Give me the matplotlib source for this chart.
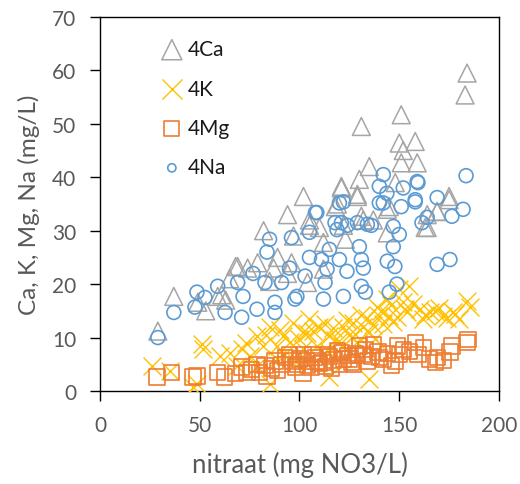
import numpy as np
import matplotlib.pyplot as plt

# 4Ca (grey triangles)
ca_x = [29, 37, 49, 53, 59, 61, 63, 65, 68, 69, 74, 79, 82, 85, 87, 89, 94, 94, 96, 97,
        102, 104, 105, 105, 110, 112, 112, 118, 119, 121, 121, 122, 123, 129, 129, 130,
        131, 131, 132, 135, 137, 144, 144, 145, 148, 150, 151, 151, 152, 158, 159, 163,
        164, 164, 169, 169, 175, 175, 183, 184]
ca_y = [11.2, 17.7, 16.6, 15.0, 17.7, 18.0, 17.0, 21.0, 23.3, 23.3, 23.0, 24.0, 30.0, 20.5,
        23.0, 25.0, 33.0, 22.0, 24.0, 29.0, 36.4, 20.3, 32.0, 31.0, 30.6, 27.8, 22.8, 34.5,
        35.0, 38.3, 38.0, 31.0, 28.4, 36.8, 36.4, 39.6, 49.5, 32.7, 32.0, 42.0, 32.0, 34.0,
        29.6, 34.5, 39.0, 46.4, 51.7, 42.7, 45.0, 46.7, 42.7, 30.6, 33.0, 30.6, 33.6, 33.6,
        35.8, 36.4, 55.4, 59.5]

# 4K (yellow crosses)
k_x = [26, 35, 46.6, 48.6, 51, 51.6, 60, 68.7, 71, 75, 78.6, 78.7, 81.7, 85, 85, 88.7, 88.7,
       91.7, 95, 96.7, 101.8, 102, 105, 108.7, 110, 115, 115, 115, 122, 122, 127, 129, 132,
       135, 135, 139, 140, 144, 145, 150, 152, 154, 155, 160.4, 162, 165.4, 172, 177, 180,
       184, 185.5, 98, 118, 125, 142, 170, 112, 92, 138, 147,
       83, 90, 100, 104, 107, 113, 117, 120, 124, 128, 131, 134, 137, 141, 146, 149, 153,
       157, 163, 168, 174, 178, 65, 73]
k_y = [4.7, 3.7, 0.7, 1.3, 8.8, 7.8, 6.5, 4.7, 7.8, 6.5, 10.2, 4.7, 8.4, 12.0, 1.3, 8.4, 6.0,
       10.2, 9.1, 12.8, 11.0, 7.8, 13.4, 8.4, 12.0, 10.2, 7.3, 2.6, 12.0, 8.4, 12.8, 9.1,
       12.0, 11.0, 2.2, 15.8, 14.0, 17.2, 14.0, 19.0, 16.6, 14.7, 19.6, 15.3, 13.4, 14.7,
       14.0, 14.7, 13.4, 16.8, 15.8, 5.5, 9.5, 10.5, 12.5, 15.5, 7.0, 6.8, 9.8, 13.0,
       10.5, 11.5, 9.8, 10.8, 11.2, 12.6, 11.8, 9.4, 13.2, 10.6, 14.2, 13.6, 12.4, 15.0,
       16.0, 13.8, 15.4, 16.2, 14.2, 15.0, 13.6, 14.4, 7.2, 9.0]

# 4Mg (orange squares)
mg_x = [28.6, 36, 46.6, 48.6, 59, 62.6, 71, 73.7, 78.7, 82.7, 83.7, 87.7, 91, 95, 96.7,
        101.8, 103.7, 106.8, 111.8, 115, 119, 122, 127, 130, 132, 134, 139.4, 146, 149, 152,
        158, 159.4, 162, 168, 169, 175.4, 176.4, 184, 184.5, 98, 100, 104, 108, 110, 113,
        117, 120, 124, 126, 128, 136, 142, 150, 155, 165, 172,
        86, 89, 93, 99, 102, 106, 109, 114, 116, 121, 125, 129, 133, 137, 140, 144, 148,
        76, 80, 68]
mg_y = [2.6, 3.5, 2.6, 2.8, 3.5, 2.6, 4.5, 3.5, 5.0, 4.7, 2.8, 5.6, 5.0, 6.9, 5.6, 3.2, 5.6,
        6.9, 5.4, 6.5, 7.5, 6.0, 5.0, 8.4, 6.9, 5.6, 7.3, 4.7, 8.4, 7.8, 9.1, 6.9, 8.2, 5.4,
        6.3, 7.3, 8.4, 9.1, 9.7, 4.5, 6.0, 4.8, 6.2, 5.2, 4.6, 5.8, 4.9, 6.6, 5.3, 7.0, 6.4,
        5.9, 6.8, 7.4, 6.0, 5.7,
        4.2, 3.8, 6.2, 5.0, 6.8, 4.4, 5.6, 6.8, 4.2, 7.2, 6.0, 6.6, 7.8, 8.6, 6.2, 7.0, 5.6,
        4.0, 3.4, 3.2]

# 4Na (blue circles)
na_x = [29, 37, 47.6, 48.6, 52.6, 59, 62.7, 69, 71, 71.7, 76.7, 78.7, 82.7, 83.7, 85, 87.7,
        87.7, 91, 95, 96, 97.7, 98.7, 102.8, 105, 105, 108, 108.7, 111, 112, 112.8, 113.8,
        115, 117.8, 118.8, 120, 120, 121, 122, 122, 123.8, 124, 129, 130, 131, 131, 132, 133,
        134, 136, 140, 140, 142, 142, 143.8, 144, 145, 147, 147, 147.8, 148.8, 150, 151, 152,
        158, 158, 159, 159.4, 161.4, 164, 169, 169, 175.4, 176.4, 182, 183.5]
na_y = [10.0, 14.7, 15.7, 18.5, 17.5, 19.6, 14.7, 20.3, 13.8, 17.7, 22.0, 15.3, 20.3, 26.0,
        28.4, 16.6, 14.7, 20.3, 23.0, 28.7, 17.2, 17.7, 21.5, 25.0, 29.7, 33.4, 33.4, 24.6,
        17.2, 20.3, 22.8, 26.5, 31.5, 30.2, 24.6, 35.2, 31.5, 35.4, 17.7, 22.4, 31.0, 31.5,
        27.0, 24.6, 19.6, 23.0, 18.5, 31.2, 31.0, 38.3, 35.2, 35.2, 40.5, 37.0, 24.3, 18.5,
        27.0, 30.8, 23.3, 20.0, 29.3, 34.5, 38.0, 35.8, 35.4, 39.2, 39.0, 31.5, 32.5, 36.2,
        23.7, 24.6, 32.7, 34.0, 40.3]

plt.rcParams['font.family'] = ['Lato', 'DejaVu Sans']

fig = plt.figure(figsize=(5.2, 4.85), dpi=100)
ax = fig.add_axes([0.1923, 0.1918, 0.7673, 0.7711])

ax.scatter(ca_x, ca_y, marker='^', s=165, facecolors='none', edgecolors='#A5A5A5',
           linewidths=1.1, label='4Ca', zorder=2)
ax.scatter(k_x, k_y, marker='x', s=165, color='#FFC000', linewidths=1.0, label='4K', zorder=3)
ax.scatter(mg_x, mg_y, marker='s', s=120, facecolors='none', edgecolors='#ED7D31',
           linewidths=1.2, label='4Mg', zorder=4)
ax.scatter(na_x, na_y, marker='o', s=100, facecolors='none', edgecolors='#5B9BD5',
           linewidths=1.2, label='4Na', zorder=5)

ax.set_xlim(0, 200)
ax.set_ylim(0, 70)
ax.set_xticks(np.arange(0, 201, 50))
ax.set_yticks(np.arange(0, 71, 10))
ax.tick_params(direction='out', length=7, width=1, pad=10, colors='black',
               labelcolor='#595959', labelsize=15)
for sp in ax.spines.values():
    sp.set_linewidth(1)
    sp.set_color('black')

ax.set_xlabel('nitraat (mg NO3/L)', fontsize=18.5, color='#595959', labelpad=12)
ax.set_ylabel('Ca, K, Mg, Na (mg/L)', fontsize=17.5, color='#595959', labelpad=9)

leg = ax.legend(loc='upper left', bbox_to_anchor=(0.12, 0.963), frameon=False, fontsize=15,
                handletextpad=0.0, handlelength=1.5, labelspacing=0.93, borderaxespad=0)
for txt in leg.get_texts():
    txt.set_color('#1a1a1a')
for h, sz in zip(leg.legend_handles, [210, 210, 115, 35]):
    h.set_sizes([sz])

fig.savefig('out.png', dpi=100)
